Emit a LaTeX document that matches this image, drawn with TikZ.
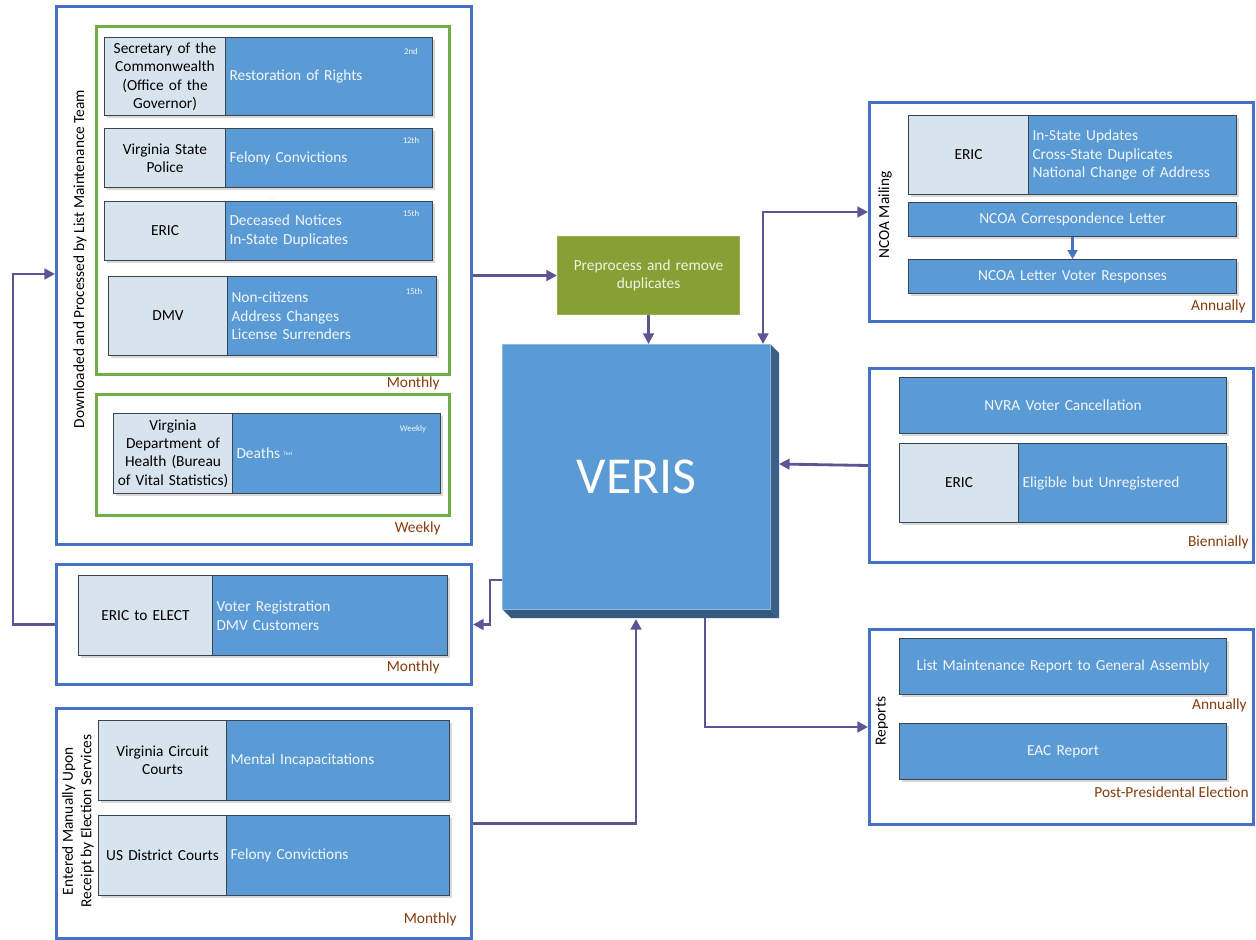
\documentclass[tikz,border=0pt]{standalone}
\usepackage{fontspec}
\setmainfont{Carlito}
\usetikzlibrary{arrows.meta,shadows,calc}
\definecolor{outerblue}{HTML}{4472C4}
\definecolor{framegreen}{HTML}{70AD47}
\definecolor{lightfill}{HTML}{D7E4EE}
\definecolor{boxblue}{HTML}{5B9BD5}
\definecolor{boxedge}{HTML}{3A4550}
\definecolor{boxtext}{HTML}{F2F6FA}
\definecolor{freqbrown}{HTML}{843C0C}
\definecolor{connpurple}{HTML}{5E5494}
\definecolor{pregreen}{HTML}{86A036}
\definecolor{pretext}{HTML}{EEF3E2}
\definecolor{verisside}{HTML}{3B5F86}
\definecolor{verisbottom}{HTML}{355A80}
\newcommand\pbox[7]{%
 \pgfmathsetmacro\pbw{(#5-#3)*0.02}%
 \pgfmathsetmacro\pbh{(#6-#4)*0.02}%
 \pgfmathsetmacro\pbt{max((#5-#3)*0.02-0.16,0.1)}%
 \node[#2, anchor=north west, inner xsep=0.08cm, inner ysep=0pt, minimum width=\pbw cm, minimum height=\pbh cm, text width=\pbt cm] (#1) at (#3,#4) {#7};}
\begin{document}
\begin{tikzpicture}[x=0.02cm,y=-0.02cm,
 every node/.style={font=\fontsize{8.75}{10.5}\selectfont},
 outerframe/.style={draw=outerblue, line width=1.7pt, fill=white},
 greenframe/.style={draw=framegreen, line width=1.9pt},
 lbox/.style={fill=lightfill, draw=boxedge, line width=0.6pt, align=center, text=black},
 bbox/.style={fill=boxblue, draw=boxedge, line width=0.6pt, align=left, text=boxtext},
 cbox/.style={bbox, align=center},
 shad/.style={drop shadow={shadow xshift=1.2pt, shadow yshift=-1.2pt, opacity=0.3}},
 freq/.style={text=freqbrown, anchor=east, inner sep=0pt},
 datelbl/.style={text=boxtext, font=\fontsize{5}{6}\selectfont, inner sep=0pt},
 tinylbl/.style={text=boxtext, font=\fontsize{3}{3}\selectfont, inner sep=0pt},
 conn/.style={draw=connpurple, line width=1.6pt, -{Triangle[length=6pt,width=6pt]}},
 innerarrow/.style={draw=outerblue, line width=1.4pt, -{Triangle[length=5pt,width=5.5pt]}},
 vlabel/.style={rotate=90, align=center, text=black, inner sep=0pt},
 prebox/.style={fill=pregreen, draw=pregreen!85!white, line width=0.6pt, align=center, text=pretext},
 verisbox/.style={fill=boxblue, draw=boxblue!70!white, line width=0.6pt, align=center, text=white, font=\fontsize{29.5}{32}\selectfont}]
\useasboundingbox[fill=white] (0,0) rectangle (1256,939);

% ---- left group 1
\pbox{g1}{outerframe}{55}{5}{470}{543}{}
\pbox{gm}{greenframe}{95}{25}{448}{373}{}
\pbox{gw}{greenframe}{95}{393}{448}{514}{}
\pbox{sc}{lbox,shad}{104}{37}{225}{115}{Secretary of the\\Commonwealth\\(Office of the\\Governor)}
\pbox{rr}{bbox,shad}{225}{37}{432}{115}{Restoration of Rights}
\node[datelbl] (d1) at (411,51) {2nd};
\pbox{vsp}{lbox,shad}{104}{128}{225}{187}{Virginia State\\Police}
\pbox{fc}{bbox,shad}{225}{128}{432}{187}{Felony Convictions}
\node[datelbl] (d2) at (411,140) {12th};
\pbox{eric1}{lbox,shad}{104}{201}{225}{260}{ERIC}
\pbox{dn}{bbox,shad}{225}{201}{432}{260}{Deceased Notices\\In-State Duplicates}
\node[datelbl] (d3) at (411,213) {15th};
\node[tinylbl] (t1) at (272,199) {Text};
\pbox{dmv}{lbox,shad}{108}{276}{227}{355}{DMV}
\pbox{nc}{bbox,shad}{227}{276}{436}{355}{Non-citizens\\Address Changes\\License Surrenders}
\node[datelbl] (d4) at (414,291) {15th};
\node[freq] (f1) at (440,383) {Monthly};
\pbox{vdh}{lbox,shad}{113}{413}{232}{493}{Virginia\\Department of\\Health (Bureau\\of Vital Statistics)}
\pbox{de}{bbox,shad}{232}{413}{440}{493}{Deaths}
\node[tinylbl] (t2) at (288,454) {Text};
\node[datelbl] (d5) at (413,429) {Weekly};
\node[freq] (f2) at (441,528) {Weekly};
\node[vlabel] (v1) at (80,259) {Downloaded and Processed by List Maintenance Team};

% ---- ERIC to ELECT
\pbox{elect}{outerframe}{55}{563}{470}{683}{}
\pbox{ee}{lbox,shad}{78}{575}{212}{655}{ERIC to ELECT}
\pbox{vr}{bbox,shad}{212}{575}{447}{655}{Voter Registration\\DMV Customers}
\node[freq] (f3) at (440,667) {Monthly};

% ---- courts
\pbox{courts}{outerframe}{55}{707}{470}{937}{}
\pbox{vcc}{lbox,shad}{98}{720}{226}{800}{Virginia Circuit\\Courts}
\pbox{mi}{bbox,shad}{226}{720}{449}{800}{Mental Incapacitations}
\pbox{usd}{lbox,shad}{98}{815}{226}{895}{US District Courts}
\pbox{fc2}{bbox,shad}{226}{815}{449}{895}{Felony Convictions}
\node[freq] (f4) at (457,919) {Monthly};
\node[vlabel] (v2) at (78,821) {Entered Manually Upon\\Receipt by Election Services};

% ---- preprocess and VERIS
\pbox{pre}{prebox}{557}{236}{739}{314}{Preprocess and remove\\duplicates}
\fill[verisside] (770,344) -- (779,353) -- (779,618) -- (770,609) -- cycle;
\fill[verisbottom] (502,609) -- (770,609) -- (779,618) -- (511,618) -- cycle;
\pbox{veris}{verisbox}{502}{344}{770}{609}{VERIS}

% ---- NCOA
\pbox{ncoa}{outerframe}{868}{101}{1252}{320}{}
\pbox{eric2}{lbox,shad}{908}{115}{1028}{194}{ERIC}
\pbox{isu}{bbox,shad}{1028}{115}{1236}{194}{In-State Updates\\Cross-State Duplicates\\National Change of Address}
\pbox{ncl}{cbox,shad}{908}{202}{1236}{236}{NCOA Correspondence Letter}
\pbox{nlr}{cbox,shad}{908}{259}{1236}{293}{NCOA Letter Voter Responses}
\draw[innerarrow] (ncl.south) -- (nlr.north);
\node[freq] (f5) at (1246,306) {Annually};
\node[vlabel] (v3) at (885,215) {NCOA Mailing};

% ---- Biennially
\pbox{bien}{outerframe}{868}{367}{1252}{561}{}
\pbox{nvra}{cbox,shad}{899}{377}{1226}{433}{NVRA Voter Cancellation}
\pbox{eric3}{lbox,shad}{899}{443}{1018}{522}{ERIC}
\pbox{ebu}{bbox,shad}{1018}{443}{1226}{522}{Eligible but Unregistered}
\node[freq] (f6) at (1249,542) {Biennially};

% ---- Reports
\pbox{rep}{outerframe}{868}{628}{1252}{823}{}
\pbox{lmr}{cbox,shad}{899}{638}{1226}{694}{List Maintenance Report to General Assembly}
\node[freq] (f7) at (1247,705) {Annually};
\pbox{eac}{cbox,shad}{899}{723}{1226}{779}{EAC Report}
\node[freq] (f8) at (1249,792) {Post-Presidental Election};
\node[vlabel] (v4) at (882,721) {Reports};

% ---- connectors
\coordinate (lx) at (13,274);
\coordinate (c3) at (763,344);
\coordinate (c4) at (779,464);
\coordinate (c5) at (705,618);
\coordinate (c6) at (490,580);
\coordinate (c8) at (636,619);
\draw[conn] (g1.east |- pre.west) -- (pre.west);
\draw[conn] (pre.south) -- (pre.south |- veris.north);
\draw[conn, {Triangle[length=6pt,width=6pt]}-{Triangle[length=6pt,width=6pt]}] (c3) |- (ncoa.west);
\draw[conn] (bien.west) -- (c4);
\draw[conn] (c5) |- (rep.west);
\draw[conn] (veris.west |- c6) -- (c6) |- (elect.east);
\draw[conn] (elect.west) -| (lx) -- (g1.west |- lx);
\draw[conn] (courts.east) -| (c8);
\end{tikzpicture}
\end{document}
